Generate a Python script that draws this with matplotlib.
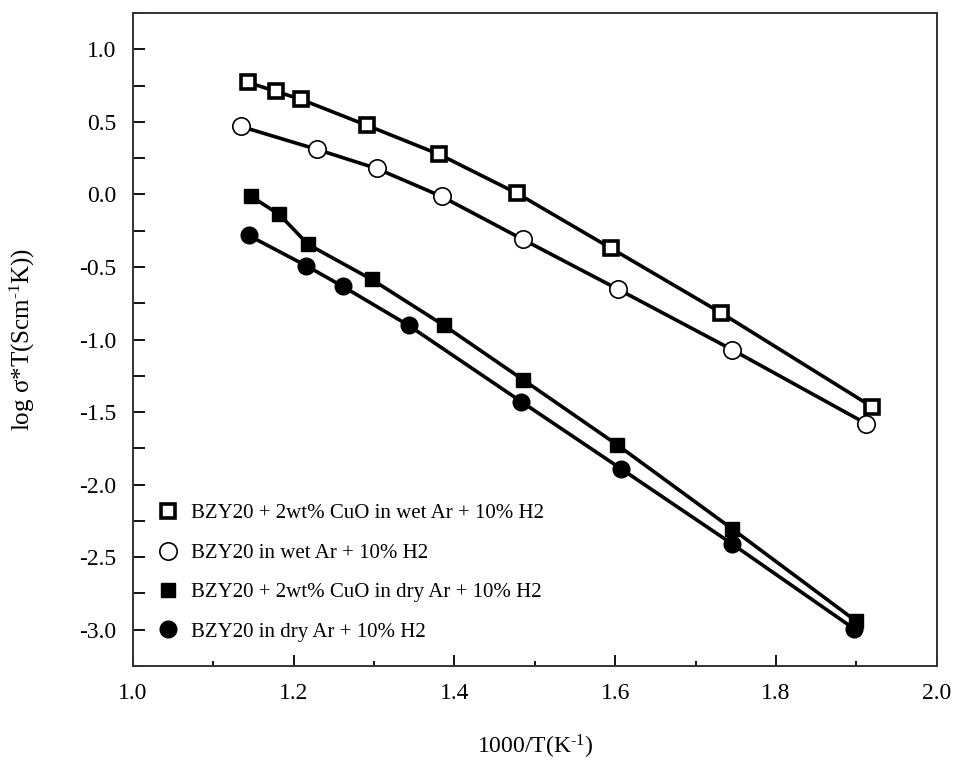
import matplotlib
matplotlib.use("Agg")
import matplotlib.pyplot as plt
from matplotlib.ticker import MultipleLocator, FormatStrFormatter

plt.rcParams['font.family'] = ['Liberation Serif', 'DejaVu Serif']
plt.rcParams['mathtext.fontset'] = 'custom'
plt.rcParams['mathtext.rm'] = 'Liberation Serif'
plt.rcParams['mathtext.it'] = 'Liberation Serif:italic'

# Data
x_wet_cuo = [1.143, 1.178, 1.209, 1.291, 1.381, 1.478, 1.595, 1.731, 1.919]
y_wet_cuo = [0.772, 0.710, 0.655, 0.476, 0.276, 0.007, -0.372, -0.814, -1.462]

x_wet = [1.134, 1.229, 1.303, 1.384, 1.485, 1.604, 1.745, 1.912]
y_wet = [0.469, 0.310, 0.179, -0.014, -0.310, -0.655, -1.069, -1.579]

x_dry_cuo = [1.147, 1.182, 1.218, 1.297, 1.387, 1.485, 1.602, 1.745, 1.899]
y_dry_cuo = [-0.014, -0.138, -0.345, -0.586, -0.903, -1.276, -1.724, -2.303, -2.938]

x_dry = [1.144, 1.215, 1.261, 1.343, 1.483, 1.607, 1.745, 1.897]
y_dry = [-0.283, -0.490, -0.634, -0.903, -1.428, -1.890, -2.407, -2.993]

labels = ["BZY20 + 2wt% CuO in wet Ar + 10% H2",
          "BZY20 in wet Ar + 10% H2",
          "BZY20 + 2wt% CuO in dry Ar + 10% H2",
          "BZY20 in dry Ar + 10% H2"]

fig = plt.figure(figsize=(9.58, 7.67), dpi=100)
ax = fig.add_axes([0.1388, 0.1317, 0.839, 0.8513])

lw = 2.6
ax.plot(x_wet_cuo, y_wet_cuo, '-s', color='black', lw=lw, ms=10,
        mfc='white', mec='black', mew=2.6, label=labels[0], zorder=3)
ax.plot(x_wet, y_wet, '-o', color='black', lw=lw, ms=12.5,
        mfc='white', mec='black', mew=1.2, label=labels[1], zorder=3)
ax.plot(x_dry_cuo, y_dry_cuo, '-s', color='black', lw=lw, ms=10.5,
        mfc='black', mec='black', mew=1, label=labels[2], zorder=3)
ax.plot(x_dry, y_dry, '-o', color='black', lw=lw, ms=12,
        mfc='black', mec='black', mew=1, label=labels[3], zorder=3)

ax.set_xlim(1.0, 2.0)
ax.set_ylim(-3.25, 1.25)
ax.xaxis.set_major_locator(MultipleLocator(0.2))
ax.xaxis.set_minor_locator(MultipleLocator(0.1))
ax.yaxis.set_major_locator(MultipleLocator(0.5))
ax.yaxis.set_minor_locator(MultipleLocator(0.25))
ax.xaxis.set_major_formatter(FormatStrFormatter('%.1f'))
ax.yaxis.set_major_formatter(FormatStrFormatter('%.1f'))

ax.tick_params(axis='x', which='major', direction='in', length=8, width=1.3,
               labelsize=17, pad=12, top=False)
ax.tick_params(axis='x', which='minor', direction='in', length=3.5, width=1.3, top=False)
ax.tick_params(axis='y', which='both', direction='in', length=8.5, width=1.3,
               labelsize=17, pad=12, right=False)

for s in ax.spines.values():
    s.set_linewidth(1.4)
    s.set_color('#333333')

ax.set_xlabel(r'1000/T(K$^{\text{-1}}$)', fontsize=17, labelpad=21)
ax.set_ylabel(r'log σ*T(Scm$^{\text{-1}}$K))', fontsize=18, labelpad=30)

leg = ax.legend(loc='lower left', frameon=False, fontsize=15,
                handlelength=0.0, handletextpad=1.1, labelspacing=0.95,
                borderaxespad=0.3, bbox_to_anchor=(0.025, 0.015))
for h in leg.legend_handles:
    h.set_linestyle('None')

fig.savefig('out.png', dpi=100)
